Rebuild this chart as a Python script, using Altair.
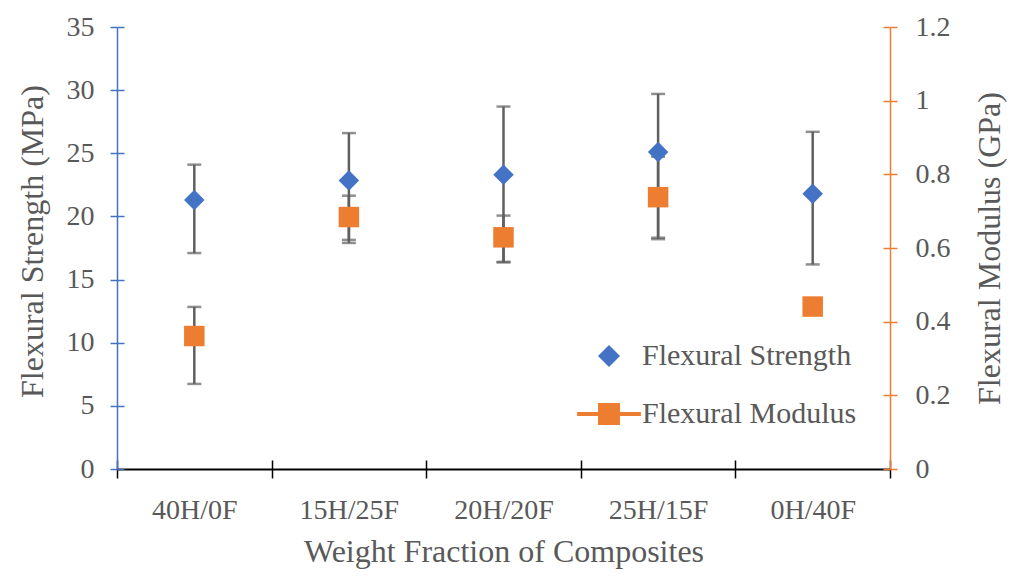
import altair as alt
import pandas as pd

categories = ["40H/0F", "15H/25F", "20H/20F", "25H/15F", "0H/40F"]
strength = [21.3, 22.85, 23.3, 25.1, 21.8]
strength_lo = [17.1, 17.9, 16.4, 18.2, 16.2]
strength_hi = [24.1, 26.6, 28.7, 29.7, 26.7]
modulus = [0.361, 0.684, 0.629, 0.738, 0.441]
modulus_lo = [0.231, 0.622, 0.561, 0.628, 0.441]
modulus_hi = [0.440, 0.742, 0.688, 0.848, 0.441]
series = ["Flexural Strength", "Flexural Modulus"]
strength_ticks = [0, 5, 10, 15, 20, 25, 30, 35]
modulus_ticks = [0, 0.2, 0.4, 0.6, 0.8, 1.0, 1.2]

BLUE = "#4472C4"
ORANGE = "#ED7D31"
GRAY = "#595959"
ERR = "#5f5f5f"
FONT = "Liberation Serif"

df = pd.DataFrame({
    "cat": categories,
    "s": strength, "s_lo": strength_lo, "s_hi": strength_hi,
    "m": modulus, "m_lo": modulus_lo, "m_hi": modulus_hi,
})
leg_df = pd.DataFrame({"series": series, "cat": [categories[0]] * 2, "v": [strength[0]] * 2})

xscale = alt.Scale(type="band", domain=categories, paddingInner=0, paddingOuter=0)
s_scale = alt.Scale(domain=[0, 35], nice=False, zero=True)
m_scale = alt.Scale(domain=[0, 1.2], nice=False, zero=True)

x_axis = alt.Axis(
    title="Weight Fraction of Composites", tickBand="extent", orient="bottom",
    domainColor="black", domainWidth=2, tickColor="black", tickWidth=1.5, tickSize=9,
    labelFont=FONT, labelFontSize=28, labelColor=GRAY, labelPadding=18, labelAngle=0,
    titleFont=FONT, titleFontSize=32, titleFontWeight="normal", titleColor=GRAY, titlePadding=12,
    grid=False,
)
x_inner = alt.Axis(tickBand="extent", orient="bottom", labels=False, domain=False, title=None,
                   tickColor="black", tickWidth=1.5, tickSize=9, offset=-9, grid=False)
x_enc = alt.X("cat:N", sort=categories, scale=xscale, axis=x_axis)
x_in = alt.X("cat:N", sort=categories, scale=xscale, axis=x_inner)
x_no = alt.X("cat:N", sort=categories, scale=xscale, axis=None)

# inner halves of the cross ticks on the two value axes
s_inner = alt.Axis(values=strength_ticks, labels=False, domain=False, title=None, orient="left",
                   tickColor=BLUE, tickWidth=1.5, tickSize=7, offset=-7, grid=False)
m_inner = alt.Axis(values=modulus_ticks, labels=False, domain=False, title=None, orient="right",
                   tickColor=ORANGE, tickWidth=1.5, tickSize=7, offset=-7, grid=False)

base = alt.Chart(df)

s_rule = base.mark_rule(color=ERR, strokeWidth=2.5).encode(
    x=x_no, y=alt.Y("s_lo:Q", scale=s_scale, axis=s_inner), y2="s_hi:Q")
s_cap_lo = base.mark_tick(color=ERR, size=14, thickness=2.5).encode(
    x=x_no, y=alt.Y("s_lo:Q", scale=s_scale, axis=None))
s_cap_hi = base.mark_tick(color=ERR, size=14, thickness=2.5).encode(
    x=x_no, y=alt.Y("s_hi:Q", scale=s_scale, axis=None))

m_rule = base.mark_rule(color=ERR, strokeWidth=2.5).encode(
    x=x_no, y=alt.Y("m_lo:Q", scale=m_scale, axis=m_inner), y2="m_hi:Q")
m_cap_lo = base.mark_tick(color=ERR, size=14, thickness=2.5).encode(
    x=x_no, y=alt.Y("m_lo:Q", scale=m_scale, axis=None))
m_cap_hi = base.mark_tick(color=ERR, size=14, thickness=2.5).encode(
    x=x_no, y=alt.Y("m_hi:Q", scale=m_scale, axis=None))

s_axis = alt.Axis(
    title="Flexural Strength (MPa)", values=strength_ticks, format="d", orient="left",
    domainColor=BLUE, domainWidth=1.5, tickColor=BLUE, tickWidth=1.5, tickSize=7,
    labelFont=FONT, labelFontSize=28, labelColor=GRAY, labelPadding=16,
    titleFont=FONT, titleFontSize=32, titleFontWeight="normal", titleColor=GRAY,
    titleAngle=270, titleX=-85, titleY=214, titleAlign="center", titleBaseline="middle",
    grid=False,
)
m_axis = alt.Axis(
    title="Flexural Modulus (GPa)", values=modulus_ticks, format="~g", orient="right",
    domainColor=ORANGE, domainWidth=1.5, tickColor=ORANGE, tickWidth=1.5, tickSize=7,
    labelFont=FONT, labelFontSize=28, labelColor=GRAY, labelPadding=18,
    titleFont=FONT, titleFontSize=32, titleFontWeight="normal", titleColor=GRAY,
    titleAngle=270, titleX=99, titleY=221, titleAlign="center", titleBaseline="middle",
    grid=False,
)

s_pts = base.mark_point(shape="diamond", filled=True, size=420, color=BLUE, opacity=1).encode(
    x=x_enc, y=alt.Y("s:Q", scale=s_scale, axis=s_axis))
m_pts = base.mark_point(shape="square", filled=True, size=420, color=ORANGE, opacity=1).encode(
    x=x_no, y=alt.Y("m:Q", scale=m_scale, axis=m_axis))

line_square = "M-2.9,-0.18H-1V-1H1V-0.18H2.9V0.18H1V1H-1V0.18H-2.9Z"
leg = alt.Legend(
    title=None, orient="none", legendX=477, legendY=314,
    symbolSize=484, symbolOpacity=1, symbolStrokeWidth=0,
    labelFont=FONT, labelFontSize=30, labelColor=GRAY, labelLimit=500,
    labelOffset=18, rowPadding=28, padding=0)
legend = alt.Chart(leg_df).mark_point(filled=True, opacity=0, size=10).encode(
    x=x_in,
    y=alt.Y("v:Q", scale=s_scale, axis=None),
    color=alt.Color("series:N", scale=alt.Scale(domain=series, range=[BLUE, ORANGE]), legend=leg),
    shape=alt.Shape("series:N", scale=alt.Scale(domain=series, range=["diamond", line_square]),
                    legend=leg),
)

chart = alt.layer(
    s_rule, s_cap_lo, s_cap_hi, m_rule, m_cap_lo, m_cap_hi, s_pts, m_pts, legend
).resolve_scale(x="independent", y="independent").properties(
    width=773, height=442,
    autosize=alt.AutoSizeParams(type="none"),
    padding={"left": 109, "top": 19, "right": 117, "bottom": 101},
).configure(background="white").configure_view(stroke=None)

chart.save("out.html", embed_options={"renderer": "svg", "actions": False})
